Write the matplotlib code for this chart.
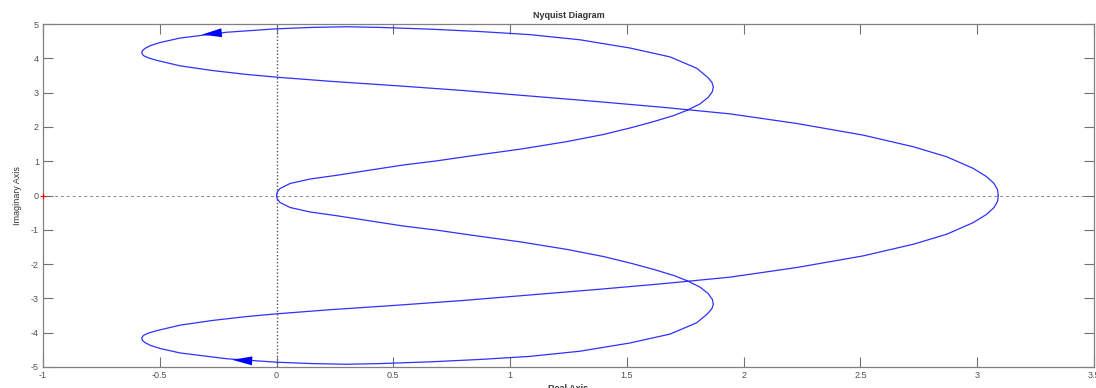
import matplotlib.pyplot as plt
import numpy as np

# positive-imaginary branch of the Nyquist curve, from the origin to the DC point
re_branch = [0.0, 0.003, 0.014, 0.058, 0.143, 0.258, 0.40, 0.543, 0.686, 0.828,
             1.042, 1.242, 1.40, 1.52, 1.612, 1.70, 1.756, 1.813, 1.848, 1.866,
             1.870, 1.864, 1.845, 1.799, 1.685, 1.513, 1.299, 1.085, 0.871, 0.657,
             0.443, 0.30, 0.15, 0.0, -0.213, -0.413, -0.499, -0.540, -0.563, -0.575,
             -0.577, -0.570, -0.548, -0.513, -0.413, -0.271, -0.129, 0.0, 0.229, 0.514,
             0.80, 1.085, 1.371, 1.656, 1.942, 2.227, 2.512, 2.727, 2.869, 2.983,
             3.040, 3.072, 3.087, 3.09]
im_branch = [0.0, 0.10, 0.20, 0.35, 0.48, 0.59, 0.74, 0.89, 1.01, 1.15,
             1.35, 1.57, 1.78, 1.98, 2.15, 2.33, 2.48, 2.67, 2.86, 3.03,
             3.17, 3.30, 3.45, 3.71, 4.04, 4.30, 4.54, 4.69, 4.78, 4.85,
             4.90, 4.92, 4.90, 4.86, 4.76, 4.59, 4.46, 4.37, 4.29, 4.22,
             4.15, 4.08, 4.01, 3.94, 3.78, 3.64, 3.53, 3.45, 3.33, 3.20,
             3.06, 2.90, 2.74, 2.57, 2.38, 2.10, 1.76, 1.42, 1.13, 0.79,
             0.55, 0.35, 0.17, 0.0]

# direction arrows (tail, tip)
arrow_tail = [(-0.213, 4.76), (0.0, -4.86)]
arrow_tip = [(-0.32, 4.69), (-0.19, -4.79)]

x_ticks = [-1, -0.5, 0, 0.5, 1, 1.5, 2, 2.5, 3, 3.5]
x_tick_labels = ['-1', '-0.5', '0', '0.5', '1', '1.5', '2', '2.5', '3', '3.5']
y_ticks = [-5, -4, -3, -2, -1, 0, 1, 2, 3, 4, 5]
y_tick_labels = ['-5', '-4', '-3', '-2', '-1', '0', '1', '2', '3', '4', '5']

plt.rcParams['font.family'] = ['Liberation Sans', 'DejaVu Sans']

re = np.array(re_branch)
im = np.array(im_branch)

fig = plt.figure(figsize=(10.96, 3.88), dpi=100)
ax = fig.add_axes([43 / 1096, 21 / 388, 1051 / 1096, 343 / 388])

ax.axhline(0, color='#888888', ls=(0, (3, 3)), lw=0.7, zorder=1)
ax.axvline(0, color='#555555', ls=(0, (1, 1.5)), lw=1.0, zorder=1)

ax.plot(re, im, color='#3030ff', lw=0.9, zorder=3)
ax.plot(re, -im, color='#3030ff', lw=0.9, zorder=3)
ax.plot([-1], [0], marker='+', color='red', ms=5, mew=0.8, clip_on=False, zorder=4)

for tail, tip in zip(arrow_tail, arrow_tip):
    ax.annotate('', xy=tip, xytext=tail,
                arrowprops=dict(arrowstyle='-|>,head_length=0.72,head_width=0.16',
                                mutation_scale=20, color='blue', lw=0,
                                shrinkA=0, shrinkB=0), zorder=5)

ax.set_xlim(-1, 3.5)
ax.set_ylim(-5, 5)
ax.set_xticks(x_ticks)
ax.set_xticklabels(x_tick_labels)
ax.set_yticks(y_ticks)
ax.set_yticklabels(y_tick_labels)
ax.tick_params(direction='in', length=7, width=0.8, color='#707070',
               labelsize=6.5, labelcolor='#505050', top=True, right=True, pad=3)
for s in ax.spines.values():
    s.set_color('#808080')
    s.set_linewidth(0.9)

ax.set_title('Nyquist Diagram', fontsize=6.5, fontweight='bold', color='#333333', pad=4)
ax.set_xlabel('Real Axis', fontsize=6.5, fontweight='bold', color='#333333', labelpad=3)
ax.set_ylabel('Imaginary Axis', fontsize=6.5, color='#333333', labelpad=6)

fig.savefig('out.png', dpi=100)
